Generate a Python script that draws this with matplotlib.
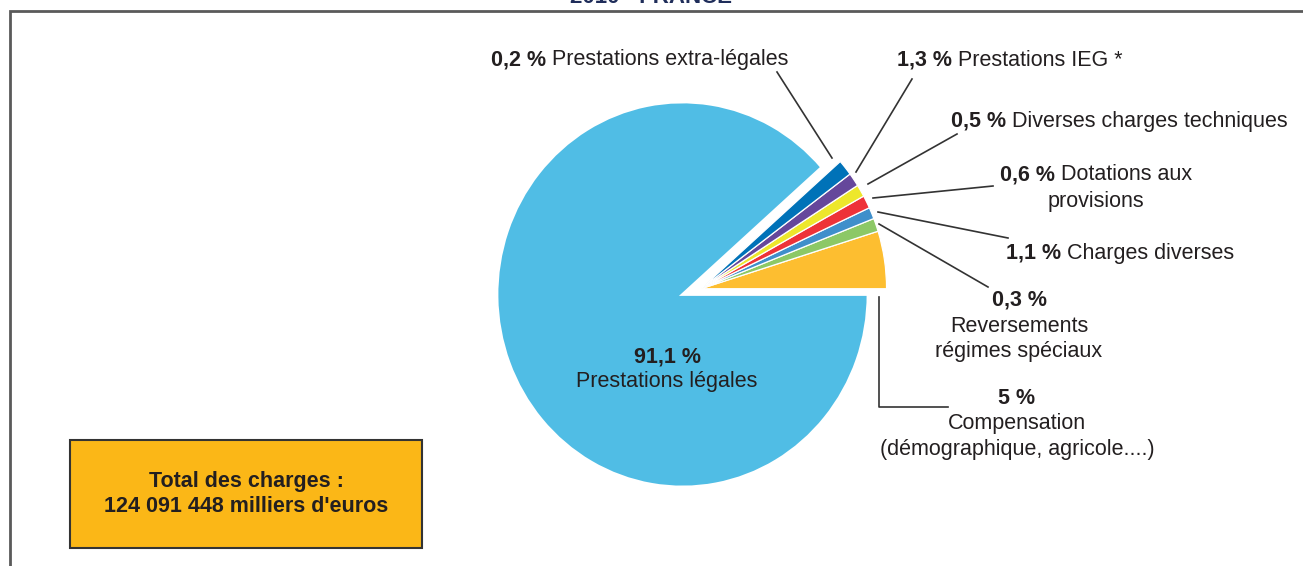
import matplotlib.pyplot as plt
from matplotlib.patches import Rectangle

# slices, counter-clockwise from 3 o'clock
labels = ["Compensation\n(démographique, agricole....)",
          "Reversements\nrégimes spéciaux",
          "Charges diverses",
          "Dotations aux\nprovisions",
          "Diverses charges techniques",
          "Prestations IEG *",
          "Prestations extra-légales",
          "Prestations légales"]
pct_text = ["5 %", "0,3 %", "1,1 %", "0,6 %", "0,5 %", "1,3 %", "0,2 %", "91,1 %"]
# shares as drawn in the picture (small slices are enlarged in the original)
shares = [4.83, 1.11, 0.97, 1.08, 1.03, 1.14, 1.33, 88.51]
colors = ["#FDBE30", "#8CC866", "#3F8FCB", "#EE3238", "#EDE72C",
          "#65479B", "#0072B8", "#50BDE5"]
total_lines = ["Total des charges :", "124 091 448 milliers d'euros"]
title = "2010 - FRANCE"

W, H = 1303, 566
txt = "#231F20"
plt.rcParams['font.family'] = ['Liberation Sans', 'DejaVu Sans']

fig = plt.figure(figsize=(W / 100, H / 100), dpi=100)

# pie in its own axes (slightly taller than wide, like the original)
cx, cy, rx, ry = 682.5, 294.5, 185.5, 192.5
pad = 1.3
axp = fig.add_axes([(cx - rx * pad) / W, (H - cy - ry * pad) / H,
                    2 * rx * pad / W, 2 * ry * pad / H])
wedges, _ = axp.pie(shares, colors=colors, startangle=0, counterclock=True,
                    wedgeprops=dict(edgecolor="white", linewidth=0.9))
axp.set_xlim(-pad, pad)
axp.set_ylim(-pad, pad)
axp.set_aspect("auto")
# pull the small slices out together
for w in wedges[:-1]:
    w.set_center((0.1, 0.03))
wedges[-1].set_linewidth(2)

# overlay in pixel coordinates for text, leader lines, frame
ax = fig.add_axes([0, 0, 1, 1])
ax.set_xlim(0, W)
ax.set_ylim(H, 0)
ax.axis("off")

# frame and cut title
ax.plot([10, 10, W], [H, 11, 11], color="#5A5A5A", lw=2, solid_joinstyle="miter")
ax.text(651, 3, title, ha="center", va="baseline", fontsize=16,
        fontweight="bold", color="#1F2D5A")

fs = 15.5


def mixed(x, y, bold, regular):
    t = ax.text(x, y, bold, fontweight="bold", fontsize=fs, color=txt,
                ha="left", va="center")
    ax.annotate(" " + regular, xy=(1, 0.5), xycoords=t, fontsize=fs,
                color=txt, ha="left", va="center")


def stacked(x, ys, bold, lines):
    ax.text(x, ys[0], bold, fontweight="bold", fontsize=fs, color=txt,
            ha="center", va="center")
    for yy, line in zip(ys[1:], lines):
        ax.text(x, yy, line, fontsize=fs, color=txt, ha="center", va="center")


mixed(491, 60, pct_text[6], labels[6])
mixed(897, 60, pct_text[5], labels[5])
mixed(951, 121, pct_text[4], labels[4])
mixed(1000, 175, pct_text[3], labels[3].split("\n")[0])
ax.text(1096, 201, labels[3].split("\n")[1], fontsize=fs, color=txt,
        ha="center", va="center")
mixed(1006, 253, pct_text[2], labels[2])
stacked(1019, [300, 326, 352], pct_text[1], labels[1].split("\n"))
stacked(1017, [398, 424, 450], pct_text[0], labels[0].split("\n"))
stacked(667, [357, 382], pct_text[7], [labels[7]])

# leader lines
lc = dict(color="#333333", lw=1.2)
ax.plot([777, 832], [72, 158], **lc)
ax.plot([912, 856], [79, 172], **lc)
ax.plot([957, 868], [134, 184], **lc)
ax.plot([993, 873], [186, 198], **lc)
ax.plot([1008, 878], [238, 212], **lc)
ax.plot([988, 879], [287, 224], **lc)
ax.plot([879, 879, 948], [297, 407, 407], **lc)

# total box
ax.add_patch(Rectangle((69.5, 439.5), 352.5, 108, facecolor="#FBB717",
                       edgecolor="#333333", lw=1.5))
for yy, line in zip([482, 507], total_lines):
    ax.text(246, yy, line, ha="center", va="center", fontsize=fs,
            fontweight="bold", color=txt)

fig.savefig("out.png", dpi=100)
